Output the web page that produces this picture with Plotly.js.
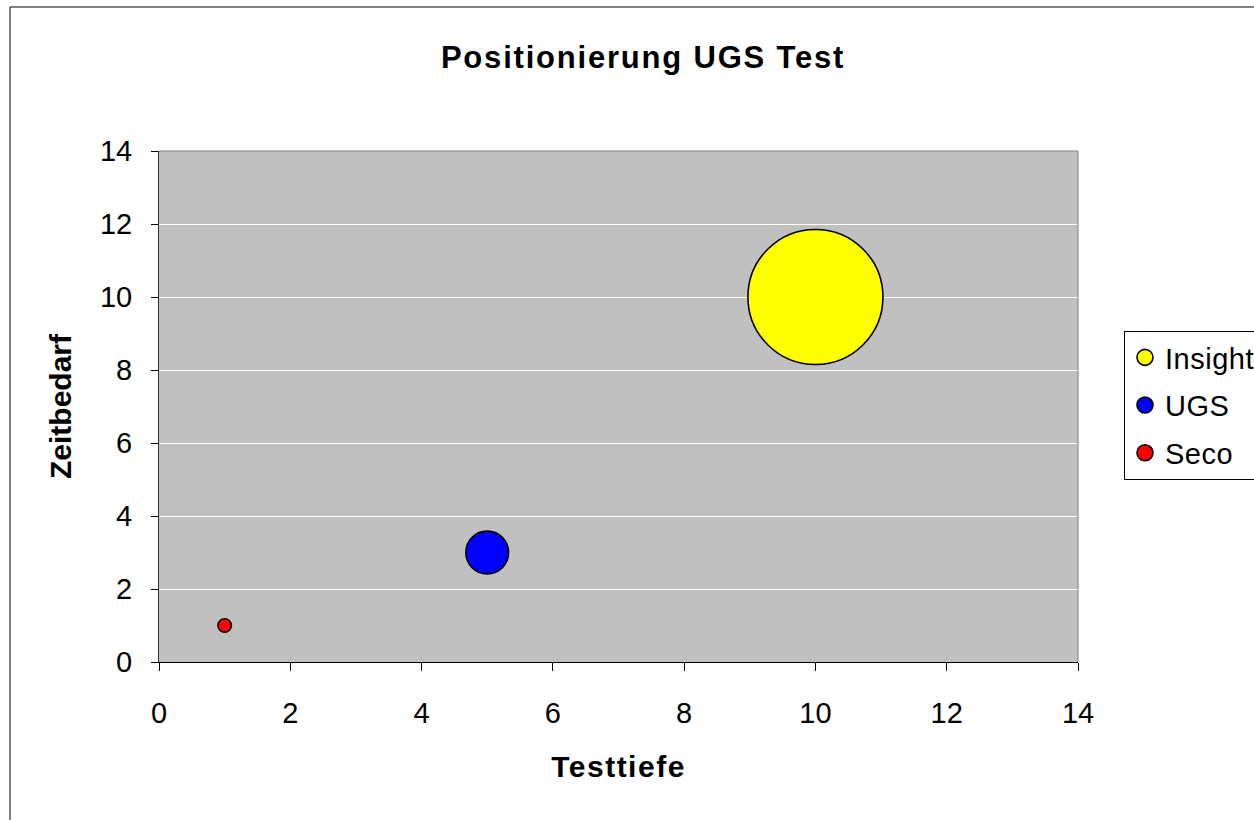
<!DOCTYPE html>
<html>
<head>
<meta charset="utf-8">
<script src="https://cdn.plot.ly/plotly-3.0.1.min.js"></script>
<style>
html,body{margin:0;padding:0;background:#fff;}
#chart{width:1254px;height:820px;}
#chart .gtitle{letter-spacing:1.8px;}
#chart .xtitle{letter-spacing:1.5px;}
#chart .legendtext{letter-spacing:0.5px;}
</style>
</head>
<body>
<div id="chart"></div>
<script>
const seriesNames = ['Insight', 'UGS', 'Seco'];
const testtiefe = [10, 5, 1];
const zeitbedarf = [10, 3, 1];
const bubbleSize = [100, 10, 1];
const seriesColors = ['#FFFF00', '#0000FF', '#FF0000'];
const tickValues = [0, 2, 4, 6, 8, 10, 12, 14];

const FONT = 'Liberation Sans, Arial, sans-serif';

const bubbleTraces = seriesNames.map((name, i) => ({
  type: 'scatter',
  mode: 'markers',
  name: name,
  legendgroup: name,
  showlegend: false,
  x: [testtiefe[i]],
  y: [zeitbedarf[i]],
  marker: {
    size: [bubbleSize[i]],
    sizemode: 'area',
    sizeref: 2 * 100 / (135 * 135),
    color: seriesColors[i],
    opacity: 1,
    line: {color: '#000000', width: 1.6}
  },
  hoverinfo: 'x+y+name'
}));

const legendTraces = seriesNames.map((name, i) => ({
  type: 'scatter',
  mode: 'markers',
  name: name,
  legendgroup: name,
  showlegend: true,
  x: [null],
  y: [null],
  marker: {
    size: 20,
    color: seriesColors[i],
    opacity: 1,
    line: {color: '#000000', width: 1.6}
  },
  hoverinfo: 'skip'
}));

const L = 159, R = 1078, T = 151, B = 662;
const pw = R - L, ph = B - T;
const px = v => (v - L) / pw;
const py = v => (B - v) / ph;

const layout = {
  width: 1254,
  height: 820,
  margin: {l: L, r: 1254 - R, t: T, b: 820 - B, pad: 0, autoexpand: false},
  paper_bgcolor: '#FFFFFF',
  plot_bgcolor: '#C0C0C0',
  font: {family: FONT, color: '#000000'},
  title: {
    text: 'Positionierung UGS Test',
    font: {family: FONT, size: 31, weight: 'bold', color: '#000000'},
    xref: 'container', x: 643 / 1254, xanchor: 'center',
    yref: 'container', y: 1 - 57 / 820, yanchor: 'middle'
  },
  xaxis: {
    range: [0, 14],
    tickvals: tickValues,
    ticktext: tickValues.map(String),
    showgrid: false,
    zeroline: false,
    showline: true,
    linecolor: '#000000',
    linewidth: 1,
    ticks: 'outside',
    ticklen: 8,
    tickcolor: '#000000',
    tickwidth: 1,
    ticklabelstandoff: 17,
    tickfont: {family: FONT, size: 29, color: '#000000'},
    title: {
      text: 'Testtiefe',
      font: {family: FONT, size: 30, weight: 'bold', color: '#000000'},
      standoff: 28
    },
    fixedrange: true
  },
  yaxis: {
    range: [0, 14],
    tickvals: tickValues,
    ticktext: tickValues.map(String),
    showgrid: true,
    gridcolor: '#FFFFFF',
    gridwidth: 1,
    zeroline: false,
    showline: true,
    linecolor: '#303030',
    linewidth: 1,
    ticks: 'outside',
    ticklen: 7,
    tickcolor: '#000000',
    tickwidth: 1,
    ticklabelstandoff: 13,
    tickfont: {family: FONT, size: 29, color: '#000000'},
    title: {
      text: 'Zeitbedarf',
      font: {family: FONT, size: 30, weight: 'bold', color: '#000000'},
      standoff: 19
    },
    fixedrange: true
  },
  showlegend: true,
  legend: {
    x: px(1124), xanchor: 'left',
    y: py(331), yanchor: 'top',
    bgcolor: '#FFFFFF',
    bordercolor: '#000000',
    borderwidth: 1,
    font: {family: FONT, size: 29, color: '#000000'},
    traceorder: 'grouped',
    tracegroupgap: 7,
    itemsizing: 'trace'
  },
  shapes: [
    {type: 'line', xref: 'paper', yref: 'paper', x0: 0, x1: 1, y0: 1, y1: 1, line: {color: '#808080', width: 1}},
    {type: 'line', xref: 'paper', yref: 'paper', x0: 1, x1: 1, y0: 0, y1: 1, line: {color: '#808080', width: 1}},
    {type: 'rect', xref: 'paper', yref: 'paper', x0: px(10), x1: px(1300), y0: py(900), y1: py(7), line: {color: '#000000', width: 1}, fillcolor: 'rgba(0,0,0,0)', layer: 'below'}
  ]
};

Plotly.newPlot('chart', bubbleTraces.concat(legendTraces), layout, {displayModeBar: false});
</script>
</body>
</html>
